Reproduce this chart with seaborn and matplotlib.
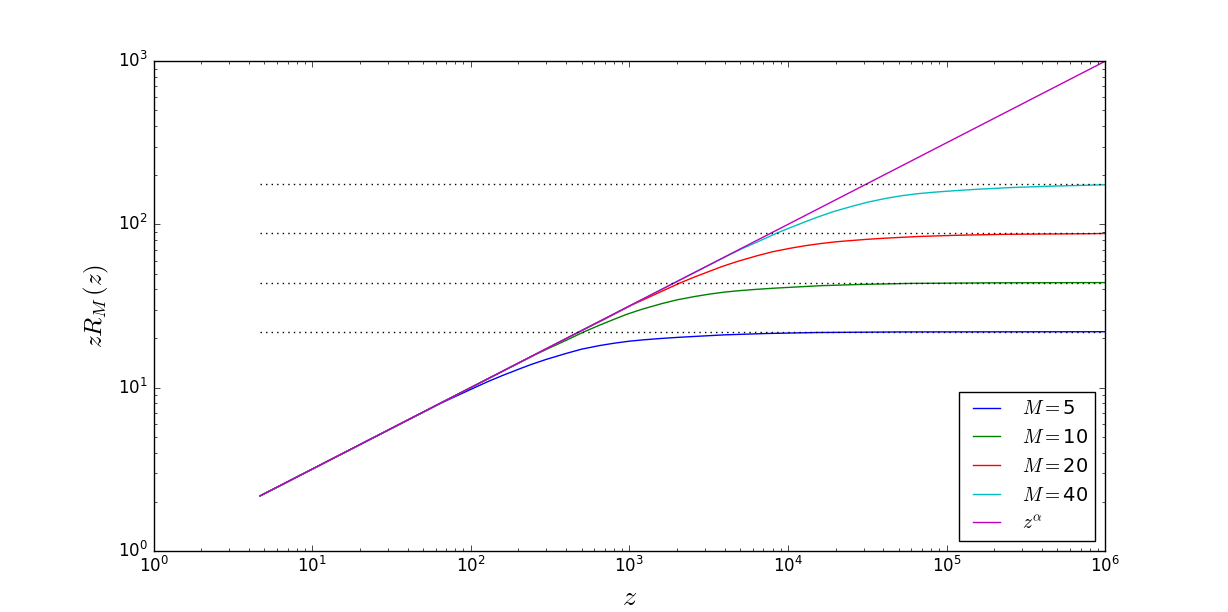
import matplotlib
matplotlib.use("Agg")
import matplotlib.pyplot as plt
import seaborn as sns
import pandas as pd

plt.style.use("classic")

# ---- data ----
z_m5 = [4.7, 30, 64, 100, 130, 160, 200, 240, 300, 400, 500, 650, 800, 1000,
        1250, 1560, 2000, 2500, 4000, 7300, 15000, 50000, 1e6]
y_m5 = [2.17, 5.47, 7.98, 9.75, 10.95, 11.9, 12.95, 13.85, 14.9, 16.2, 17.2, 18.1,
        18.7, 19.25, 19.65, 19.98, 20.3, 20.55, 21.05, 21.45, 21.75, 21.93, 22.0]

z_m10 = [4.7, 120, 256, 400, 520, 640, 800, 960, 1200, 1600, 2000, 2600, 3200,
         4000, 5000, 6240, 8000, 10000, 16000, 29200, 60000, 2e5, 1e6]
y_m10 = [2.17, 10.95, 15.96, 19.5, 22.0, 24.0, 26.2, 28.1, 30.2, 32.7, 34.5, 36.2,
         37.4, 38.5, 39.3, 39.96, 40.6, 41.1, 42.1, 42.9, 43.5, 43.86, 44.0]

z_m20 = [4.7, 480, 700, 1024, 1280, 1600, 2080, 2560, 3200, 3840, 4800, 6400, 8000,
         10400, 12800, 16000, 20000, 24960, 32000, 40000, 64000, 116800, 240000, 800000, 1e6]
y_m20 = [2.17, 21.9, 26.3, 31.9, 35.2, 38.9, 43.7, 47.5, 51.6, 55.2, 59.3, 64.3, 68.0,
         71.5, 74.0, 76.3, 78.2, 79.6, 81.1, 82.2, 84.2, 85.8, 87.0, 87.7, 88.0]

z_m40 = [4.7, 2000, 4096, 5120, 6400, 8320, 10240, 12800, 15360, 19200, 25600, 32000,
         41600, 51200, 64000, 80000, 100000, 128000, 160000, 256000, 467000, 1e6]
y_m40 = [2.17, 44.7, 63.8, 70.9, 78.0, 87.6, 95.2, 103.6, 110.8, 119.5, 129.5, 137.0,
         144.5, 149.5, 153.8, 157.0, 159.6, 162.2, 164.4, 168.2, 171.6, 175.0]

z_pow = [4.7, 1e6]
y_pow = [2.17, 1000]

asymptotes = [22, 44, 88, 176]
asym_z = [4.7, 1e6]

labels = [r"$M=$5", r"$M=$10", r"$M=$20", r"$M=$40", r"$z^\alpha$"]
colors = ["b", "g", "r", "c", "m"]

series = [(z_m5, y_m5), (z_m10, y_m10), (z_m20, y_m20), (z_m40, y_m40), (z_pow, y_pow)]
frames = []
for lab, (zz, yy) in zip(labels, series):
    frames.append(pd.DataFrame({"z": zz, "y": yy, "series": lab}))
df = pd.concat(frames, ignore_index=True)

hfr = []
for a in asymptotes:
    hfr.append(pd.DataFrame({"z": asym_z, "y": [a, a], "level": str(a)}))
hdf = pd.concat(hfr, ignore_index=True)

fig, ax = plt.subplots(figsize=(12.28, 6.12), dpi=100)
fig.subplots_adjust(left=0.125, right=0.9, bottom=0.1, top=0.9)

sns.lineplot(data=df, x="z", y="y", hue="series", hue_order=labels,
             palette=dict(zip(labels, colors)), sort=False, estimator=None,
             linewidth=1.0, ax=ax)
sns.lineplot(data=hdf, x="z", y="y", units="level", estimator=None, sort=False,
             color="k", linestyle=":", linewidth=1.0, legend=False, ax=ax)

ax.set_xscale("log")
ax.set_yscale("log")
ax.set_xlim(1, 1e6)
ax.set_ylim(1, 1e3)
ax.set_xlabel(r"$z$", fontsize=20)
ax.set_ylabel(r"$zR_M\,(z)$", fontsize=18)

handles, labs = ax.get_legend_handles_labels()
ax.legend(handles[:5], labs[:5], loc="lower right", fontsize=14)

fig.savefig("out.png", dpi=100)
